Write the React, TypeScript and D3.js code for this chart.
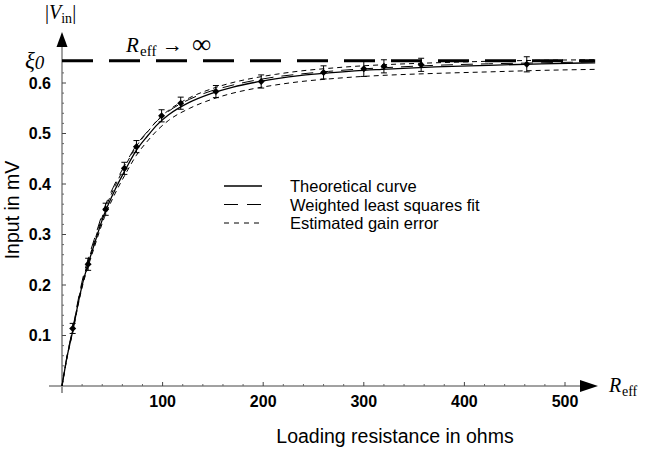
import React from 'react';
import * as d3 from 'd3';

// Curves (R in ohms, |V| in mV)
const curveR = [0, 5, 11, 16, 21, 26.5, 32, 42, 53, 64, 74, 85, 95, 106, 127, 148, 170, 191, 212, 238, 265, 291, 318, 371, 424, 477, 530];
const theory = [0, 0.057, 0.112, 0.163, 0.207, 0.245, 0.28, 0.34, 0.39, 0.432, 0.467, 0.495, 0.518, 0.537, 0.562, 0.579, 0.592, 0.601, 0.608, 0.615, 0.62, 0.624, 0.627, 0.632, 0.635, 0.638, 0.64];
const wlsFit = [0, 0.06, 0.117, 0.17, 0.216, 0.255, 0.29, 0.352, 0.402, 0.443, 0.477, 0.504, 0.526, 0.544, 0.568, 0.584, 0.596, 0.605, 0.612, 0.618, 0.623, 0.627, 0.63, 0.635, 0.638, 0.64, 0.642];
const gainUpper = [0, 0.058, 0.114, 0.166, 0.211, 0.25, 0.285, 0.346, 0.397, 0.44, 0.475, 0.503, 0.527, 0.546, 0.571, 0.588, 0.601, 0.61, 0.617, 0.624, 0.629, 0.633, 0.636, 0.64, 0.643, 0.645, 0.646];
const gainLower = [0, 0.056, 0.11, 0.16, 0.203, 0.24, 0.274, 0.333, 0.382, 0.423, 0.457, 0.485, 0.507, 0.526, 0.55, 0.567, 0.58, 0.589, 0.596, 0.603, 0.608, 0.612, 0.615, 0.619, 0.622, 0.625, 0.627];

// Measured points with error bars
const dataR = [10.6, 26, 43.4, 62, 74, 99, 118, 153, 198, 260, 300, 320, 357, 462];
const dataV = [0.114, 0.241, 0.35, 0.431, 0.474, 0.535, 0.56, 0.583, 0.603, 0.621, 0.628, 0.633, 0.636, 0.637];
const dataErr = [0.01, 0.012, 0.012, 0.012, 0.012, 0.012, 0.012, 0.012, 0.013, 0.013, 0.015, 0.013, 0.013, 0.015];

const xi0 = 0.644;
const xi0End = 530;
const xTicks = [100, 200, 300, 400, 500];
const xMinor = [20, 40, 60, 80, 120, 140, 160, 180, 220, 240, 260, 280, 320, 340, 360, 380, 420, 440, 460, 480];
const yTicks = [0.1, 0.2, 0.3, 0.4, 0.5, 0.6];
const yTickLabels = ['0.1', '0.2', '0.3', '0.4', '0.5', '0.6'];
const yMinor = [0.02, 0.04, 0.06, 0.08, 0.12, 0.14, 0.16, 0.18, 0.22, 0.24, 0.26, 0.28, 0.32, 0.34, 0.36, 0.38, 0.42, 0.44, 0.46, 0.48, 0.52, 0.54, 0.56, 0.58, 0.62];
const legendLabels = ['Theoretical curve', 'Weighted least squares fit', 'Estimated gain error'];

export default function App() {
  const W = 665, H = 450;
  const x = d3.scaleLinear().domain([0, 500]).range([62, 565]);
  const y = d3.scaleLinear().domain([0, 0.6]).range([386, 83]);
  const line = d3.line<number>()
    .x((_, i) => x(curveR[i]))
    .y((d) => y(d))
    .curve(d3.curveMonotoneX);

  const sans = 'Liberation Sans, Arial, Helvetica, sans-serif';
  const serif = 'Liberation Serif, Times New Roman, serif';
  const x0 = x(0), yAx = y(0);

  return (
    <svg width={W} height={H} style={{ position: 'absolute', left: 0, top: 0, background: '#fff' }}>
      {/* axes */}
      <line x1={49} x2={582} y1={yAx} y2={yAx} stroke="#444" strokeWidth={1} />
      <path d={`M580,${yAx - 6} L598,${yAx} L580,${yAx + 6} Z`} fill="#000" />
      <line x1={x0} x2={x0} y1={393} y2={45} stroke="#444" strokeWidth={1} />
      <line x1={x0} x2={x0} y1={393} y2={y(0.13)} stroke="#999" strokeWidth={2} />
      <path d={`M${x0 - 5.5},47 L${x0},32 L${x0 + 5.5},47 Z`} fill="#000" />

      {xTicks.map((t) => (
        <g key={'xt' + t}>
          <line x1={x(t)} x2={x(t)} y1={yAx} y2={yAx - 4} stroke="#444" />
          <text x={x(t)} y={yAx + 21} textAnchor="middle" fontFamily={sans} fontWeight="bold" fontSize={16}>{t}</text>
        </g>
      ))}
      {xMinor.map((t) => (
        <line key={'xm' + t} x1={x(t)} x2={x(t)} y1={yAx} y2={yAx - 2} stroke="#666" />
      ))}
      {yTicks.map((t, i) => (
        <g key={'yt' + t}>
          <line x1={x0} x2={x0 + 4} y1={y(t)} y2={y(t)} stroke="#444" />
          <text x={51} y={y(t) + 5.5} textAnchor="end" fontFamily={sans} fontWeight="bold" fontSize={16}>{yTickLabels[i]}</text>
        </g>
      ))}
      {yMinor.map((t) => (
        <line key={'ym' + t} x1={x0} x2={x0 + 2} y1={y(t)} y2={y(t)} stroke="#666" />
      ))}

      {/* xi0 asymptote */}
      <line x1={x0} x2={x(xi0End)} y1={y(xi0)} y2={y(xi0)} stroke="#000" strokeWidth={3} strokeDasharray="31 16" />

      {/* curves */}
      <path d={line(gainUpper) || ''} fill="none" stroke="#000" strokeWidth={1} strokeDasharray="5 4" />
      <path d={line(gainLower) || ''} fill="none" stroke="#000" strokeWidth={1} strokeDasharray="5 4" />
      <path d={line(wlsFit) || ''} fill="none" stroke="#000" strokeWidth={1} strokeDasharray="12 8" />
      <path d={line(theory) || ''} fill="none" stroke="#000" strokeWidth={1.3} />

      {/* data points */}
      {dataR.map((r, i) => {
        const cx = x(r), cy = y(dataV[i]);
        const top = y(dataV[i] + dataErr[i]), bot = y(dataV[i] - dataErr[i]);
        return (
          <g key={'p' + i}>
            <line x1={cx} x2={cx} y1={top} y2={bot} stroke="#000" strokeWidth={1} />
            <line x1={cx - 3} x2={cx + 3} y1={top} y2={top} stroke="#000" strokeWidth={1} />
            <line x1={cx - 3} x2={cx + 3} y1={bot} y2={bot} stroke="#000" strokeWidth={1} />
            <path d={`M${cx},${cy - 3.5} L${cx + 3.5},${cy} L${cx},${cy + 3.5} L${cx - 3.5},${cy} Z`} fill="#000" />
          </g>
        );
      })}

      {/* legend */}
      {legendLabels.map((lab, i) => {
        const ly = 186 + i * 18.5;
        const dash = i === 0 ? undefined : i === 1 ? '14 9' : '5 5';
        return (
          <g key={'lg' + i}>
            <line x1={224} x2={262} y1={ly} y2={ly} stroke="#000" strokeWidth={i === 0 ? 1.5 : 1} strokeDasharray={dash} />
            <text x={290} y={ly + 6} fontFamily={sans} fontSize={16.5}>{lab}</text>
          </g>
        );
      })}

      {/* axis titles */}
      <text x={395} y={443} textAnchor="middle" fontFamily={sans} fontSize={19.5}>Loading resistance in ohms</text>
      <text transform={`translate(19,210) rotate(-90)`} textAnchor="middle" fontFamily={sans} fontSize={19.5}>Input in mV</text>

      {/* math labels */}
      <text x={45} y={19} fontFamily={serif} fontSize={20}>
        |<tspan fontStyle="italic">V</tspan><tspan fontSize={14} dy={4}>in</tspan><tspan dy={-4}>|</tspan>
      </text>
      <text x={25} y={68} fontFamily={serif} fontSize={23} fontStyle="italic">ξ<tspan fontSize={19} dy={1}>0</tspan></text>
      <text x={126} y={52} fontFamily={serif} fontSize={21} fontStyle="italic">R</text>
      <text x={140} y={56} fontFamily={serif} fontSize={15}>eff</text>
      <text x={162} y={52} fontFamily={serif} fontSize={21}>→</text>
      <text x={192} y={53} fontFamily={serif} fontSize={27}>∞</text>
      <text x={609} y={392} fontFamily={serif} fontSize={20} fontStyle="italic">R</text>
      <text x={622} y={396} fontFamily={serif} fontSize={14}>eff</text>
    </svg>
  );
}
